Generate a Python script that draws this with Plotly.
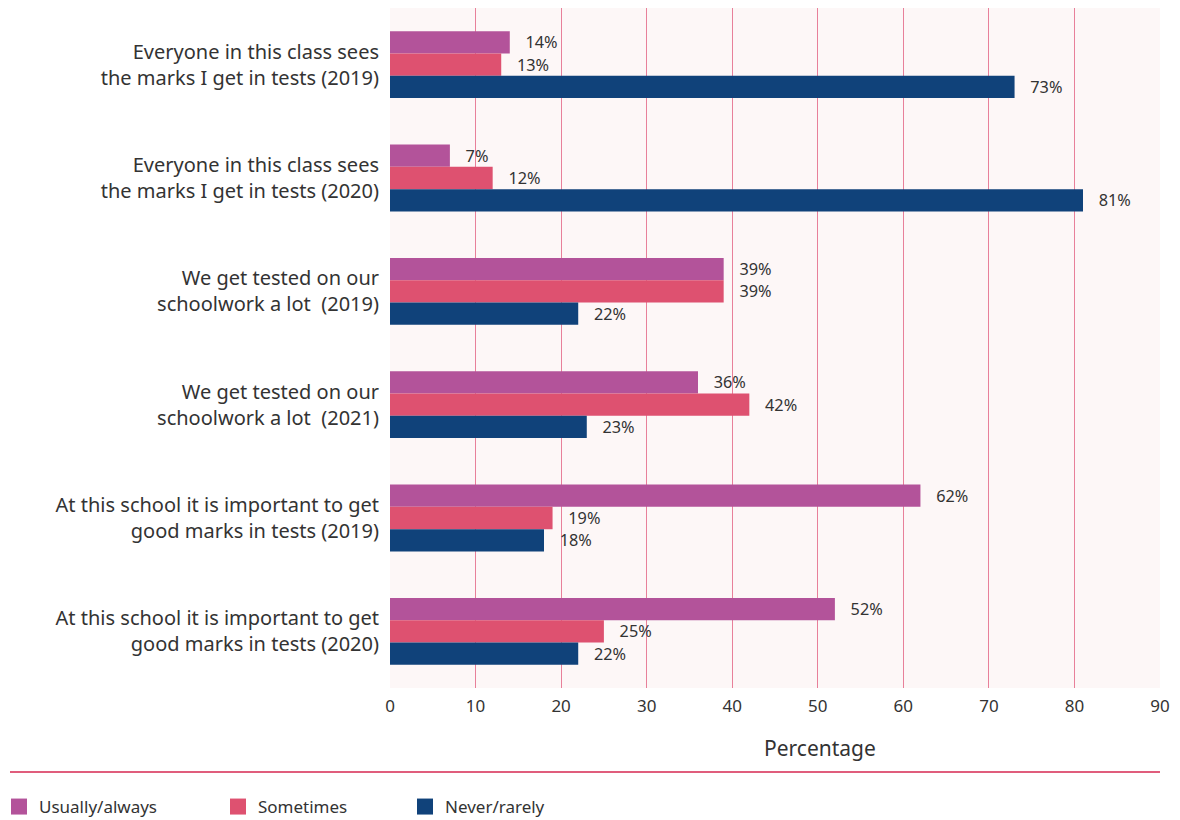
import plotly.graph_objects as go

categories = [
    "Everyone in this class sees<br>the marks I get in tests (2019)",
    "Everyone in this class sees<br>the marks I get in tests (2020)",
    "We get tested on our<br>schoolwork a lot  (2019)",
    "We get tested on our<br>schoolwork a lot  (2021)",
    "At this school it is important to get<br>good marks in tests (2019)",
    "At this school it is important to get<br>good marks in tests (2020)",
]
usually = [14, 7, 39, 36, 62, 52]
sometimes = [13, 12, 39, 42, 19, 25]
never = [73, 81, 22, 23, 18, 22]
x_ticks = [0, 10, 20, 30, 40, 50, 60, 70, 80, 90]

series = [
    ("Usually/always", usually, "#b3539a"),
    ("Sometimes", sometimes, "#de5170"),
    ("Never/rarely", never, "#10427a"),
]

FONT = "Noto Sans"
TXT = "#333333"

# page offset (browser body margin)
OFF = 8
W, H = 1164, 812
PL, PT, PR, PB = 390, 8, 1160, 688  # plot area in page pixels
L, T = PL - OFF, PT - OFF
R = W - (PR - OFF)
B = H - (PB - OFF)
pw, ph = W - L - R, H - T - B


def px_x(p):
    return (p - PL) / pw


def px_y(p):
    return (PB - p) / ph


fig = go.Figure()
for name, vals, col in series:
    fig.add_trace(go.Bar(
        name=name, y=categories, x=vals, orientation="h",
        marker=dict(color=col, line=dict(width=0)),
        texttemplate="\u00a0\u00a0\u00a0%{x}%", textposition="outside",
        textfont=dict(family=FONT, size=19, color=TXT),
        cliponaxis=False, showlegend=False,
    ))

legend_x = [-1, 218, 405]
layout_legends = {}
for i, ((name, vals, col), lx) in enumerate(zip(series, legend_x)):
    key = "legend" if i == 0 else f"legend{i + 1}"
    fig.add_trace(go.Scatter(
        name=name, x=[None], y=[None], mode="markers",
        marker=dict(symbol="square", size=20, color=col),
        legend=key, showlegend=True,
    ))
    layout_legends[key] = dict(
        x=px_x(lx), xanchor="left", y=px_y(807), yanchor="middle",
        font=dict(size=17, color=TXT, family=FONT), itemwidth=30,
        itemsizing="trace",
        bgcolor="rgba(0,0,0,0)", borderwidth=0,
    )

fig.update_layout(
    width=W, height=H,
    margin=dict(l=L, r=R, t=T, b=B, autoexpand=False),
    barmode="group", bargap=0.41, bargroupgap=0,
    paper_bgcolor="white", plot_bgcolor="#fdf7f7",
    font=dict(family=FONT, color=TXT),
    xaxis=dict(range=[0, 90], tickvals=x_ticks, showgrid=True, gridcolor="#e8809a",
               gridwidth=1, zeroline=False, showline=False, ticks="",
               ticklabelstandoff=6,
               tickfont=dict(size=17, color=TXT), fixedrange=True),
    yaxis=dict(autorange="reversed", showgrid=False, zeroline=False, showline=False,
               ticks="", ticklabelstandoff=10, tickfont=dict(size=20, color=TXT)),
    showlegend=True,
    **layout_legends,
)
fig.add_annotation(text="Percentage", xref="paper", yref="paper", x=px_x(820), y=px_y(748),
                   showarrow=False, font=dict(size=21, color=TXT), xanchor="center", yanchor="middle")
fig.add_shape(type="line", xref="paper", yref="paper", x0=px_x(10), x1=1, y0=px_y(772), y1=px_y(772),
              line=dict(color="#e05d7c", width=2))

fig.write_html("out.html")
